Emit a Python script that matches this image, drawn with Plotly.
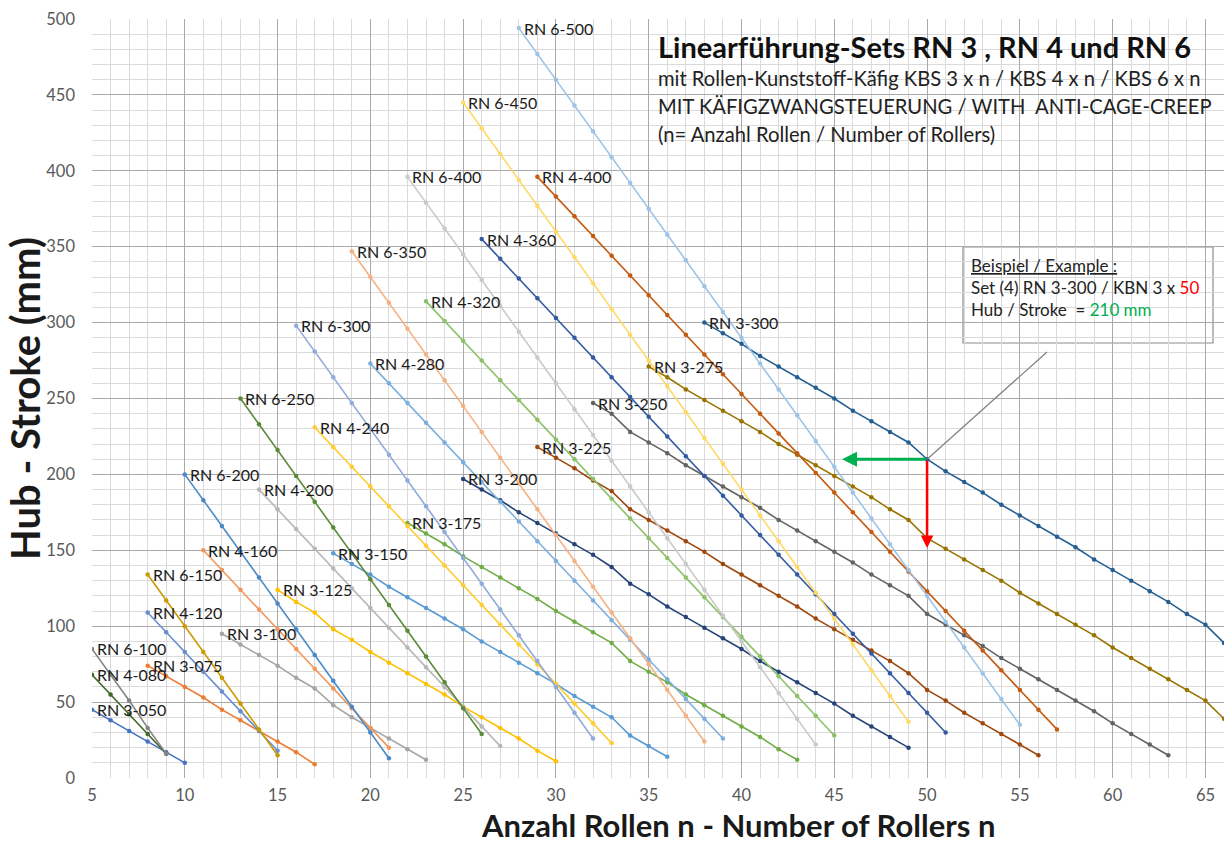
import plotly.graph_objects as go

# ---------------- data (stroke in mm per number of rollers n) ----------------
rn3_050 = [45, 38, 31, 24, 17, 10]
rn3_075 = [74, 67, 60, 53, 45, 38, 31, 24, 17, 9]
rn3_100 = [95, 88, 81, 74, 66, 59, 48, 40, 33, 26, 19, 12]
rn3_125 = [124, 116, 109, 98, 91, 83, 76, 69, 62, 55, 47, 40, 33, 26, 18, 11]
rn3_150 = [148, 141, 134, 126, 119, 112, 105, 98, 90, 83, 76, 69, 62, 54, 47, 40, 28, 21, 14]
rn3_175 = [168, 161, 154, 146, 139, 132, 125, 118, 110, 103, 96, 89, 77, 70, 63, 55,
           48, 41, 34, 27, 19, 12]
rn3_200 = [197, 190, 183, 175, 168, 161, 154, 147, 139, 128, 121, 113, 106, 99, 92, 85,
           77, 70, 63, 56, 49, 41, 34, 27, 20]
rn3_225 = [218, 211, 204, 196, 189, 177, 170, 163, 156, 149, 141, 134, 127, 120, 113, 105,
           98, 91, 84, 77, 69, 58, 51, 43, 36, 29, 22, 15]
rn3_250 = [247, 240, 228, 221, 214, 206, 199, 192, 185, 178, 170, 163, 156, 149, 142, 134,
           127, 120, 108, 101, 94, 87, 79, 72, 65, 58, 51, 44, 36, 29, 22, 15]
rn3_275 = [271, 264, 256, 249, 242, 235, 228, 220, 213, 206, 199, 192, 185, 177, 170, 158,
           151, 144, 137, 130, 122, 115, 108, 101, 94, 86, 79, 72, 65, 58, 51, 39]
rn3_300 = [300, 293, 286, 278, 271, 264, 257, 250, 242, 235, 228, 221, 210, 202, 195, 188,
           180, 173, 166, 159, 152, 144, 137, 130, 123, 116, 108, 101, 89]

rn4_080 = [68, 55, 42, 29, 16]
rn4_120 = [109, 96, 83, 70, 57, 44, 31, 18]
rn4_160 = [150, 137, 124, 111, 98, 85, 72, 59, 46, 33, 20]
rn4_200 = [190, 177, 164, 151, 138, 125, 112, 99, 86, 73, 60, 47, 34, 21]
rn4_240 = [231, 218, 205, 192, 179, 166, 153, 140, 127, 114, 101, 88, 75, 62, 49, 36, 23]
rn4_280 = [273, 260, 247, 234, 221, 208, 195, 182, 169, 156, 143, 130, 117, 104, 91, 78,
           65, 52, 39, 26]
rn4_320 = [314, 301, 288, 275, 262, 249, 236, 223, 210, 197, 184, 171, 158, 145, 132, 119,
           106, 93, 80, 67, 54, 41, 28]
rn4_360 = [355, 342, 329, 316, 303, 290, 277, 264, 251, 238, 225, 212, 199, 186, 173, 160,
           147, 134, 121, 108, 95, 82, 69, 56, 43, 30]
rn4_400 = [396, 383, 370, 357, 344, 331, 318, 305, 292, 279, 266, 253, 240, 227, 214, 201,
           188, 175, 162, 149, 136, 123, 110, 97, 84, 71, 58, 45, 32]

rn6_100 = [85, 68, 51, 33, 16]
rn6_150 = [134, 117, 100, 83, 66, 49, 32, 15]
rn6_200 = [200, 183, 166, 149, 132, 115, 98, 81, 64, 47, 30, 13]
rn6_250 = [250, 233, 216, 199, 182, 165, 148, 131, 114, 97, 80, 63, 46, 29]
rn6_300 = [298, 281, 264, 247, 230, 213, 196, 179, 162, 145, 128, 111, 94, 77, 60, 43, 26]
rn6_350 = [347, 330, 313, 296, 279, 262, 245, 228, 211, 194, 177, 160, 143, 126, 109, 92,
           75, 58, 41, 24]
rn6_400 = [396, 379, 362, 345, 328, 311, 294, 277, 260, 243, 226, 209, 192, 175, 158, 141,
           124, 107, 90, 73, 56, 39, 22]
rn6_450 = [445, 428, 411, 394, 377, 360, 343, 326, 309, 292, 275, 258, 241, 224, 207, 190,
           173, 156, 139, 122, 105, 88, 71, 54, 37]
rn6_500 = [494, 477, 460, 443, 426, 409, 392, 375, 358, 341, 324, 307, 290, 273, 256, 239,
           222, 205, 188, 171, 154, 137, 120, 103, 86, 69, 52, 35]

series_names = ["RN 3-050", "RN 3-075", "RN 3-100", "RN 3-125", "RN 3-150", "RN 3-175",
                "RN 3-200", "RN 3-225", "RN 3-250", "RN 3-275", "RN 3-300",
                "RN 4-080", "RN 4-120", "RN 4-160", "RN 4-200", "RN 4-240", "RN 4-280",
                "RN 4-320", "RN 4-360", "RN 4-400",
                "RN 6-100", "RN 6-150", "RN 6-200", "RN 6-250", "RN 6-300", "RN 6-350",
                "RN 6-400", "RN 6-450", "RN 6-500"]
series_start_n = [5, 8, 12, 15, 18, 22, 25, 29, 32, 35, 38,
                  5, 8, 11, 14, 17, 20, 23, 26, 29,
                  5, 8, 10, 13, 16, 19, 22, 25, 28]
series_values = [rn3_050, rn3_075, rn3_100, rn3_125, rn3_150, rn3_175, rn3_200, rn3_225,
                 rn3_250, rn3_275, rn3_300,
                 rn4_080, rn4_120, rn4_160, rn4_200, rn4_240, rn4_280, rn4_320, rn4_360,
                 rn4_400,
                 rn6_100, rn6_150, rn6_200, rn6_250, rn6_300, rn6_350, rn6_400, rn6_450,
                 rn6_500]

x_ticks = [5, 10, 15, 20, 25, 30, 35, 40, 45, 50, 55, 60, 65]
y_ticks = [0, 50, 100, 150, 200, 250, 300, 350, 400, 450, 500]

example_n = 50
example_stroke = 210

# ---------------- styling ----------------
palette = ["#4472C4", "#ED7D31", "#A5A5A5", "#FFC000", "#5B9BD5", "#70AD47",
           "#264478", "#9E480E", "#636363", "#997300", "#255E91", "#43682B",
           "#698ED0", "#F1975A", "#B7B7B7", "#FFCD33", "#7CAFDD", "#8CC168",
           "#335AA1", "#C55A11", "#848484", "#CC9A00", "#4A89C8", "#5A8A39",
           "#8FAADC", "#F4B183", "#C9C9C9", "#FFD966", "#9DC3E6"]

FONT = "Lato"
W, H = 1230, 845
PL, PR, PT, PB = 92, 1224, 19, 778  # plot area in pixels
XMIN, XMAX, YMIN, YMAX = 5, 66, 0, 500


def px2x(p):
    return XMIN + (p - PL) / (PR - PL) * (XMAX - XMIN)


def px2y(p):
    return YMIN + (PB - p) / (PB - PT) * (YMAX - YMIN)


def ppx(p):
    return (p - PL) / (PR - PL)


def ppy(p):
    return (PB - p) / (PB - PT)


fig = go.Figure()
annotations = []
for i, (name, n0, vals) in enumerate(zip(series_names, series_start_n, series_values)):
    c = palette[i]
    xs = list(range(n0, n0 + len(vals)))
    fig.add_trace(go.Scatter(x=xs, y=vals, mode="lines+markers", name=name,
                             line=dict(color=c, width=1.6),
                             marker=dict(color=c, size=4.5),
                             showlegend=False, hoverinfo="x+y+name"))
    annotations.append(dict(x=xs[0], y=vals[0], xref="x", yref="y", text=name,
                            showarrow=False, xanchor="left", yanchor="middle",
                            xshift=3, font=dict(family=FONT, size=16, color="#1a1a1a")))

# title box text
title_left = ppx(656)
annotations += [
    dict(x=title_left, y=ppy(46), xref="paper", yref="paper", xanchor="left", yanchor="middle",
         showarrow=False, text="<b>Linearführung-Sets RN 3 , RN 4 und RN 6</b>",
         font=dict(family=FONT, size=29, color="#111111")),
    dict(x=title_left, y=ppy(78), xref="paper", yref="paper", xanchor="left", yanchor="middle",
         showarrow=False,
         text="mit Rollen-Kunststoff-Käfig KBS 3 x n / KBS 4 x n / KBS 6 x n",
         font=dict(family=FONT, size=20.2, color="#222222")),
    dict(x=title_left, y=ppy(106), xref="paper", yref="paper", xanchor="left", yanchor="middle",
         showarrow=False,
         text="MIT KÄFIGZWANGSTEUERUNG / WITH&nbsp; ANTI-CAGE-CREEP",
         font=dict(family=FONT, size=20.2, color="#222222")),
    dict(x=title_left, y=ppy(134), xref="paper", yref="paper", xanchor="left", yanchor="middle",
         showarrow=False,
         text="(n= Anzahl Rollen / Number of Rollers)",
         font=dict(family=FONT, size=20.2, color="#222222")),
]

# example box text
ex_left = ppx(969)
annotations += [
    dict(x=ex_left, y=ppy(265), xref="paper", yref="paper", xanchor="left", yanchor="middle",
         showarrow=False, text="<u>Beispiel / Example :</u>",
         font=dict(family=FONT, size=17, color="#222222")),
    dict(x=ex_left, y=ppy(287), xref="paper", yref="paper", xanchor="left", yanchor="middle",
         showarrow=False,
         text=f"Set (4) RN 3-300 / KBN 3 x <span style='color:#FF0000'>{example_n}</span>",
         font=dict(family=FONT, size=17, color="#222222")),
    dict(x=ex_left, y=ppy(309), xref="paper", yref="paper", xanchor="left", yanchor="middle",
         showarrow=False,
         text=f"Hub / Stroke&nbsp; = <span style='color:#00B050'>{example_stroke} mm</span>",
         font=dict(family=FONT, size=17, color="#222222")),
]

# arrows of the example
annotations += [
    dict(x=px2x(842), y=example_stroke, ax=example_n, ay=example_stroke, xref="x", yref="y",
         axref="x", ayref="y", text="", showarrow=True, arrowhead=2, arrowsize=1,
         arrowwidth=3, arrowcolor="#00B050"),
    dict(x=example_n, y=px2y(548), ax=example_n, ay=example_stroke, xref="x", yref="y",
         axref="x", ayref="y", text="", showarrow=True, arrowhead=2, arrowsize=1,
         arrowwidth=2.5, arrowcolor="#FF0000"),
]

# axis titles
annotations += [
    dict(x=ppx(738), y=ppy(845), xref="paper", yref="paper", xanchor="center", yanchor="bottom",
         showarrow=False, text="<b>Anzahl Rollen n - Number of Rollers n</b>", borderpad=0,
         font=dict(family=FONT, size=31, color="#1a1a1a")),
    dict(x=ppx(25), y=ppy(399), xref="paper", yref="paper", xanchor="center", yanchor="middle",
         showarrow=False, text="<b>Hub - Stroke (mm)</b>", textangle=-90, borderpad=0,
         font=dict(family=FONT, size=40, color="#1a1a1a")),
]

shapes = [
    dict(type="rect", xref="paper", yref="paper", x0=ppx(648), x1=ppx(1216),
         y0=ppy(156), y1=ppy(28), fillcolor="white", line=dict(width=0), layer="between"),
    dict(type="rect", xref="paper", yref="paper", x0=ppx(963), x1=ppx(1213),
         y0=ppy(343), y1=ppy(247), fillcolor="white",
         line=dict(color="#8C8C8C", width=1.2), layer="between"),
    dict(type="line", xref="x", yref="y", x0=example_n, y0=example_stroke,
         x1=px2x(1047), y1=px2y(352), line=dict(color="#7F7F7F", width=1.2), layer="above"),
]

fig.update_layout(
    width=W, height=H,
    margin=dict(l=PL, r=W - PR, t=PT, b=H - PB, pad=0, autoexpand=False),
    paper_bgcolor="white", plot_bgcolor="white",
    font=dict(family=FONT),
    annotations=annotations, shapes=shapes,
    xaxis=dict(range=[XMIN, XMAX], tickmode="array", tickvals=x_ticks,
               ticktext=[str(v) for v in x_ticks], automargin=False,
               showgrid=True, gridcolor="#A9A9A9", gridwidth=1,
               minor=dict(dtick=1, tick0=5, showgrid=True, gridcolor="#DADADA", gridwidth=1),
               zeroline=False, showline=False, ticks="", ticklabelstandoff=5,
               tickfont=dict(family=FONT, size=16.5, color="#595959")),
    yaxis=dict(range=[YMIN, YMAX], tickmode="array", tickvals=y_ticks,
               ticktext=[str(v) for v in y_ticks], automargin=False,
               showgrid=True, gridcolor="#A9A9A9", gridwidth=1,
               minor=dict(dtick=10, tick0=0, showgrid=True, gridcolor="#DADADA", gridwidth=1),
               zeroline=False, showline=False, ticks="", ticklabelstandoff=16,
               tickfont=dict(family=FONT, size=16.5, color="#595959")),
    hovermode="closest",
)

fig.write_html("out.html", config={"displayModeBar": False},
               post_script="document.body.style.margin='0px';"
                           "document.body.style.padding='0px';"
                           "document.body.style.overflow='hidden';")
